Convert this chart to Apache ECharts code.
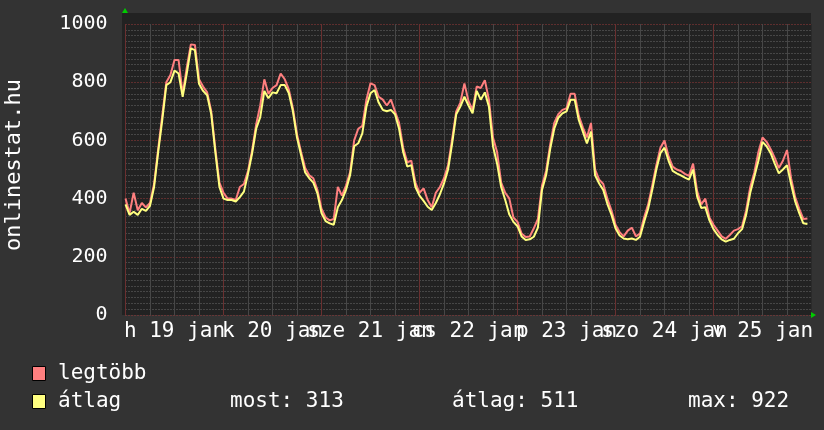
<!DOCTYPE html>
<html>
<head>
<meta charset="utf-8">
<script src="https://cdn.jsdelivr.net/npm/echarts@6/dist/echarts.min.js"></script>
<style>
html,body{margin:0;padding:0;background:#333333;}
#chart{width:824px;height:430px;}
</style>
</head>
<body>
<div id="chart"></div>
<script>
// hourly samples over one week (hour 0 = Monday 19 Jan 00:00)
var dayLabels = ["h 19 jan", "k 20 jan", "sze 21 jan", "cs 22 jan", "p 23 jan", "szo 24 jan", "v 25 jan"];
var yTicks = [0, 200, 400, 600, 800, 1000];
var seriesNames = ["legtöbb", "átlag"];
var statLabels = ["most: 313", "átlag: 511", "max: 922"];
var yTitle = "onlinestat.hu";

var maxValues = [
  400,350,420,360,385,370,385,450,570,685,800,825,876,876,760,850,930,928,810,785,765,700,570,455,
  420,400,400,395,440,450,495,565,655,720,810,760,780,790,830,810,775,710,620,560,505,480,470,430,
  365,335,325,330,440,410,445,490,600,640,650,740,796,790,750,740,720,740,700,660,575,525,530,455,
  420,435,395,370,420,440,470,515,605,700,730,796,735,705,785,780,807,740,610,560,455,420,400,335,
  320,280,268,270,298,330,445,495,585,660,690,705,710,760,760,685,645,610,660,500,465,450,400,360,
  310,285,270,290,300,270,280,335,380,445,515,575,600,545,510,500,495,485,478,520,425,380,400,335,
  310,290,270,262,275,290,295,305,360,440,490,560,610,595,570,540,505,530,567,470,405,365,330,332
];
var avgValues = [
  380,344,355,344,365,358,375,440,560,670,790,800,840,830,750,830,916,910,795,770,755,690,560,440,
  400,395,395,390,405,424,485,555,640,680,770,745,765,762,790,790,762,700,610,550,490,470,455,418,
  350,323,315,310,370,395,430,480,580,590,624,716,762,773,730,705,700,705,690,640,560,510,515,440,
  410,392,372,361,385,415,452,500,590,690,716,750,720,693,770,740,765,716,580,520,440,395,345,320,
  305,270,258,260,269,300,430,480,570,640,678,693,700,740,740,670,630,590,630,480,452,430,382,345,
  298,273,263,260,263,258,269,320,365,430,500,556,575,530,495,487,480,472,465,500,407,368,370,325,
  295,275,260,252,258,262,281,295,345,420,475,530,595,580,556,520,487,500,515,450,390,350,315,313
];

function toPairs(arr){ return arr.map(function(v,i){ return [i, v]; }); }

var FONT = "DejaVu Sans Mono";
var MAJOR = '#9a3a3a';
var MINOR = '#6a6a6a';

// vertical grid: every 6 hours (minor), every 24 hours (major)
var gridX = [];
for (var h = 0; h < 168; h += 6) {
  gridX.push({xAxis:h, lineStyle:{color:(h % 24 === 0) ? '#6a3030' : '#474747', type:'solid', width:1}});
}

var chart = echarts.init(document.getElementById('chart'), null, {renderer:'canvas'});

var option = {
  backgroundColor: '#333333',
  animation: false,
  grid: {left:125.5, top:24, width:686, height:291, show:true, backgroundColor:'#222222', borderWidth:0,
         outerBoundsMode:'none', containLabel:false},
  xAxis: {
    type:'value', min:0, max:168, interval:12,
    axisLine:{show:false}, axisTick:{show:false},
    splitLine:{show:false},
    axisLabel:{
      show:true, color:'#ffffff', fontFamily:FONT, fontSize:21, margin:6,
      hideOverlap:false, showMinLabel:true, showMaxLabel:true,
      formatter:function(v){ return (v % 24 === 12) ? dayLabels[(v-12)/24] : ''; }
    }
  },
  yAxis: {
    type:'value', min:yTicks[0], max:yTicks[yTicks.length-1], interval:200,
    axisLine:{show:false}, axisTick:{show:false},
    axisLabel:{color:'#ffffff', fontFamily:FONT, fontSize:20, margin:18,
               formatter:function(v){ return String(v); }},
    splitLine:{show:true, lineStyle:{color:MAJOR, type:[1,2], width:1}},
    minorTick:{show:false, splitNumber:10},
    minorSplitLine:{show:true, lineStyle:{color:MINOR, type:[1,2], width:1}}
  },
  series: [
    {name:seriesNames[0], type:'line', data:toPairs(maxValues), showSymbol:false,
     lineStyle:{color:'#ff7f7f', width:2}, itemStyle:{color:'#ff7f7f'}, emphasis:{disabled:true}, z:2,
     markLine:{silent:true, symbol:['none','none'], z:1, animation:false, precision:0,
               label:{show:false}, emphasis:{disabled:true}, data:gridX}},
    {name:seriesNames[1], type:'line', data:toPairs(avgValues), showSymbol:false,
     lineStyle:{color:'#ffff80', width:2}, itemStyle:{color:'#ffff80'}, emphasis:{disabled:true}, z:3}
  ],
  graphic: [
    {type:'rect', silent:true, shape:{x:122, y:13, width:689, height:11}, style:{fill:'#222222'}},
    {type:'rect', silent:true, shape:{x:122, y:13, width:3, height:302}, style:{fill:'#222222'}},
    {type:'polygon', silent:true, shape:{points:[[122,13],[128,13],[125,8]]}, style:{fill:'#00cc00'}},
    {type:'polygon', silent:true, shape:{points:[[811,312],[811,318],[816,315]]}, style:{fill:'#00cc00'}},
    {type:'text', silent:true, x:14, y:165, rotation:Math.PI/2,
     style:{text:yTitle, fill:'#ffffff', font:'22px "DejaVu Sans Mono"', textAlign:'center', textVerticalAlign:'middle'}},
    {type:'rect', silent:true, shape:{x:32.5, y:366.5, width:13, height:14}, style:{fill:'#ff7f7f', stroke:'#000000', lineWidth:1}},
    {type:'rect', silent:true, shape:{x:32.5, y:394.5, width:13, height:14}, style:{fill:'#ffff80', stroke:'#000000', lineWidth:1}},
    {type:'text', silent:true, x:58, y:374, style:{text:seriesNames[0], fill:'#ffffff', font:'21px "DejaVu Sans Mono"', textVerticalAlign:'middle'}},
    {type:'text', silent:true, x:58, y:402, style:{text:seriesNames[1], fill:'#ffffff', font:'21px "DejaVu Sans Mono"', textVerticalAlign:'middle'}},
    {type:'text', silent:true, x:230, y:402, style:{text:statLabels[0], fill:'#ffffff', font:'21px "DejaVu Sans Mono"', textVerticalAlign:'middle'}},
    {type:'text', silent:true, x:452, y:402, style:{text:statLabels[1], fill:'#ffffff', font:'21px "DejaVu Sans Mono"', textVerticalAlign:'middle'}},
    {type:'text', silent:true, x:688, y:402, style:{text:statLabels[2], fill:'#ffffff', font:'21px "DejaVu Sans Mono"', textVerticalAlign:'middle'}}
  ]
};
chart.setOption(option);
</script>
</body>
</html>
